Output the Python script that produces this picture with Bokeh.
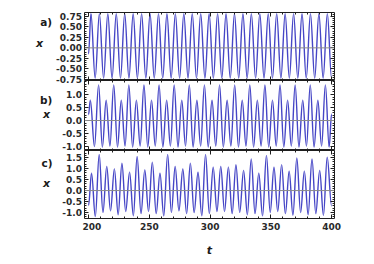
import numpy as np
from bokeh.plotting import figure
from bokeh.layouts import column, row
from bokeh.models import (Range1d, FixedTicker, LinearAxis, ColumnDataSource,
                          Span, SingleIntervalTicker, CustomLabelingPolicy)
from bokeh.core.properties import value
from bokeh.embed import file_html
from bokeh.resources import INLINE

# ---------------- data (extrema) ----------------
panel_letters = ["a)", "b)", "c)"]
y_name = "x"
t_name = "t"

# panel a
a_start = (200.0, -0.15)
a_peak_t = [202.00, 208.95, 215.89, 222.84, 229.79, 236.74, 243.68, 250.63, 257.58, 264.52,
            271.47, 278.42, 285.36, 292.31, 299.26, 306.21, 313.15, 320.10, 327.05, 333.99,
            340.94, 347.89, 354.83, 361.78, 368.73, 375.68, 382.62, 389.57, 396.52]
a_peak_x = [0.81, 0.81, 0.81, 0.81, 0.81, 0.81, 0.81, 0.81, 0.81, 0.81,
            0.81, 0.81, 0.81, 0.81, 0.81, 0.81, 0.81, 0.81, 0.81, 0.81,
            0.81, 0.81, 0.81, 0.81, 0.81, 0.81, 0.81, 0.81, 0.81]
a_trough_t = [205.47, 212.42, 219.37, 226.31, 233.26, 240.21, 247.16, 254.10, 261.05, 268.00,
              274.94, 281.89, 288.84, 295.78, 302.73, 309.68, 316.63, 323.57, 330.52, 337.47,
              344.41, 351.36, 358.31, 365.25, 372.20, 379.15, 386.10, 393.04, 400.00]
a_trough_x = [-0.72, -0.72, -0.72, -0.72, -0.72, -0.72, -0.72, -0.72, -0.72, -0.72,
              -0.72, -0.72, -0.72, -0.72, -0.72, -0.72, -0.72, -0.72, -0.72, -0.72,
              -0.72, -0.72, -0.72, -0.72, -0.72, -0.72, -0.72, -0.72, -0.72]
a_ticks = [-0.75, -0.5, -0.25, 0.0, 0.25, 0.5, 0.75]
a_labels = ["-0.75", "-0.50", "-0.25", "0.00", "0.25", "0.50", "0.75"]

# panel b
b_start = (200.0, 0.22)
b_end = (400.0, 0.25)
b_peak_t = [201.50, 208.30, 214.52, 220.74, 226.96, 233.18, 239.40, 245.62, 251.84, 258.06,
            264.28, 270.50, 276.72, 282.94, 289.16, 295.38, 301.60, 307.82, 314.04, 320.26,
            326.48, 332.70, 338.92, 345.14, 351.36, 357.58, 363.80, 370.02, 376.24, 382.46,
            388.68, 394.90]
b_peak_x = [0.78, 1.37, 0.78, 1.37, 0.78, 1.37, 0.78, 1.37, 0.78, 1.37,
            0.78, 1.37, 0.78, 1.37, 0.78, 1.37, 0.78, 1.37, 0.78, 1.37,
            0.78, 1.37, 0.78, 1.37, 0.78, 1.37, 0.78, 1.37, 0.78, 1.37,
            0.78, 1.37]
b_trough_t = [204.90, 211.41, 217.63, 223.85, 230.07, 236.29, 242.51, 248.73, 254.95, 261.17,
              267.39, 273.61, 279.83, 286.05, 292.27, 298.49, 304.71, 310.93, 317.15, 323.37,
              329.59, 335.81, 342.03, 348.25, 354.47, 360.69, 366.91, 373.13, 379.35, 385.57,
              391.79, 398.01]
b_trough_x = [-1.00, -1.02, -0.98, -1.02, -0.98, -1.02, -0.98, -1.02, -0.98, -1.02,
              -0.98, -1.02, -0.98, -1.02, -0.98, -1.02, -0.98, -1.02, -0.98, -1.02,
              -0.98, -1.02, -0.98, -1.02, -0.98, -1.02, -0.98, -1.02, -0.98, -1.02,
              -0.98, -1.02]
b_ticks = [-1.0, -0.5, 0.0, 0.5, 1.0]
b_labels = ["-1.0", "-0.5", "0.0", "0.5", "1.0"]

# panel c
c_start = (200.0, -0.68)
c_end = (400.0, -0.70)
c_peak_t = [202.5, 208.8, 215.0, 221.3, 227.5, 233.8, 240.0, 246.3, 252.5, 258.8,
            265.1, 271.3, 277.6, 283.8, 290.1, 296.3, 302.6, 308.8, 315.1, 321.3,
            327.6, 333.9, 340.1, 346.4, 352.6, 358.9, 365.1, 371.4, 377.6, 383.9,
            390.2, 396.4]
c_peak_x = [0.79, 1.64, 1.09, 0.98, 1.24, 0.83, 1.55, 0.94, 1.29, 0.79,
            1.64, 1.09, 0.98, 1.24, 0.83, 1.64, 1.06, 1.09, 1.06, 1.18,
            0.91, 1.44, 0.79, 1.59, 1.06, 1.18, 0.88, 1.48, 0.88, 1.44,
            0.91, 1.52]
c_trough_t = [205.6, 211.9, 218.1, 224.4, 230.6, 236.9, 243.2, 249.4, 255.7, 261.9,
              268.2, 274.4, 280.7, 286.9, 293.2, 299.4, 305.7, 311.9, 318.2, 324.4,
              330.7, 337.0, 343.2, 349.5, 355.7, 362.0, 368.2, 374.5, 380.7, 387.0,
              393.3]
c_trough_x = [-1.18, -1.00, -0.92, -1.10, -0.95, -1.15, -1.05, -0.95, -1.05, -1.15,
              -1.00, -0.92, -1.05, -1.00, -1.15, -1.05, -0.95, -0.95, -1.05, -1.00,
              -1.10, -1.05, -1.15, -1.00, -0.95, -1.05, -1.12, -1.00, -1.10, -1.05,
              -1.12]
c_ticks = [-1.0, -0.5, 0.0, 0.5, 1.0, 1.5]
c_labels = ["-1.0", "-0.5", "0.0", "0.5", "1.0", "1.5"]

# ---------------- styling / layout ----------------
LINE = "#4646c6"
FRAME = "#1e1e1e"
FONT = "DejaVu Sans"
K = 0.3642  # bezier handle fraction giving a sine-like half wave
LEFT_W = 82          # side strip: panel letters, "x" and the y tick labels
BORDER_L = 84 - LEFT_W
NO_LABELS = CustomLabelingPolicy(code="""
    for (const i of indices) { indices.unset(i) }
    return indices
""")


def nodes(*parts):
    pts = []
    for p in parts:
        if isinstance(p, tuple):
            pts.append(p)
        else:
            pts.extend(p)
    pts.sort(key=lambda q: q[0])
    t = np.array([q[0] for q in pts])
    x = np.array([q[1] for q in pts])
    return t, x


def bez_source(t, x):
    t0, t1 = t[:-1], t[1:]
    x0, x1 = x[:-1], x[1:]
    dt = t1 - t0
    return ColumnDataSource(dict(x0=t0, y0=x0, x1=t1, y1=x1,
                                 cx0=t0 + K * dt, cy0=x0, cx1=t1 - K * dt, cy1=x1))


xr = Range1d(196.7, 402.4)


def style_axis(ax, show_labels):
    ax.axis_line_color = None
    ax.axis_label = None
    ax.axis_label_standoff = 0
    ax.major_tick_in = 4
    ax.major_tick_out = 0
    ax.minor_tick_in = 2
    ax.minor_tick_out = 0
    ax.major_tick_line_color = FRAME
    ax.minor_tick_line_color = FRAME
    ax.major_label_text_font = FONT
    ax.major_label_text_font_style = "bold"
    ax.major_label_text_color = "#2a2a2a"
    if show_labels:
        ax.major_label_text_font_size = "9px"
    else:
        ax.major_label_text_font_size = "0px"
        ax.major_label_policy = NO_LABELS
        ax.major_label_standoff = 0


def panel(t, x, yr, ticks, minor_step, fh, top, bottom, last):
    p = figure(frame_width=250, frame_height=fh, x_range=xr, y_range=Range1d(*yr),
               output_backend="svg", toolbar_location=None,
               min_border_left=BORDER_L, min_border_right=20,
               min_border_top=top, min_border_bottom=bottom)
    p.grid.visible = False
    p.outline_line_color = FRAME
    p.outline_line_width = 1
    p.add_layout(Span(location=0, dimension="width", line_color="#8a8a8a", line_width=1))
    src = bez_source(t, x)
    p.bezier(x0="x0", y0="y0", x1="x1", y1="y1", cx0="cx0", cy0="cy0", cx1="cx1", cy1="cy1",
             source=src, line_color=LINE, line_width=1.4)

    lo = np.ceil(yr[0] / minor_step) * minor_step
    minors = [float(v) for v in np.round(np.arange(lo, yr[1], minor_step), 4)]
    yt = FixedTicker(ticks=ticks, minor_ticks=minors)
    xt = SingleIntervalTicker(interval=50, num_minor_ticks=5)

    yl = p.yaxis[0]
    yl.ticker = yt
    style_axis(yl, False)

    yrax = LinearAxis(ticker=yt)
    style_axis(yrax, False)
    p.add_layout(yrax, "right")

    xb = p.xaxis[0]
    xb.ticker = xt
    style_axis(xb, last)
    if last:
        xb.major_label_standoff = 4
        xb.axis_label = t_name
        xb.axis_label_text_font = FONT
        xb.axis_label_text_font_style = "bold italic"
        xb.axis_label_text_font_size = "11px"
        xb.axis_label_standoff = 11
        xb.axis_label_text_color = "#1a1a1a"

    xa = LinearAxis(ticker=xt)
    style_axis(xa, False)
    p.add_layout(xa, "above")
    return p


ta, xa_ = nodes([a_start], list(zip(a_peak_t, a_peak_x)), list(zip(a_trough_t, a_trough_x)))
tb, xb_ = nodes([b_start, b_end], list(zip(b_peak_t, b_peak_x)), list(zip(b_trough_t, b_trough_x)))
tc, xc_ = nodes([c_start, c_end], list(zip(c_peak_t, c_peak_x)), list(zip(c_trough_t, c_trough_x)))

YR_A, YR_B, YR_C = (-0.775, 0.84), (-1.154, 1.54), (-1.27, 1.82)
FH_A, FH_B, FH_C = 68, 70, 68
TOP_A = 12
BOTTOM_C = 44
pa = panel(ta, xa_, YR_A, a_ticks, 0.05, FH_A, TOP_A, 0, False)
pb = panel(tb, xb_, YR_B, b_ticks, 0.1, FH_B, 0, 0, False)
pc = panel(tc, xc_, YR_C, c_ticks, 0.1, FH_C, 0, BOTTOM_C, True)

# side strip: its frame spans the whole column; one extra y range per panel,
# aligned with that panel's frame so tick labels go through the same scale.
H = TOP_A + FH_A + FH_B + FH_C + BOTTOM_C
side = figure(width=LEFT_W, height=H, x_range=Range1d(0, LEFT_W), y_range=Range1d(H, 0),
              output_backend="svg", toolbar_location=None, min_border=0,
              x_axis_location=None, y_axis_location=None)
side.grid.visible = False
side.outline_line_color = None

frame_tops = [TOP_A, TOP_A + FH_A, TOP_A + FH_A + FH_B]
for name, yr, ftop, fh, ticks, labels in [("a", YR_A, frame_tops[0], FH_A, a_ticks, a_labels),
                                          ("b", YR_B, frame_tops[1], FH_B, b_ticks, b_labels),
                                          ("c", YR_C, frame_tops[2], FH_C, c_ticks, c_labels)]:
    per_px = (yr[1] - yr[0]) / fh
    side.extra_y_ranges[name] = Range1d(start=yr[0] - (H - ftop - fh) * per_px,
                                        end=yr[1] + ftop * per_px)
    side.text(x=[LEFT_W - 0.5] * len(ticks), y=ticks, text=labels, y_range_name=name,
              text_font=value(FONT), text_font_style="bold", text_font_size="9px",
              text_align="right", text_baseline="middle", text_color="#2a2a2a")

side.text(x=[45.7, 45.7, 46.5], y=[21.5, 99.5, 162.5], text=panel_letters,
          text_font=value(FONT), text_font_style="bold", text_font_size="10.5px",
          text_align="center", text_baseline="middle", text_color="#1a1a1a")
side.text(x=[39.0, 46.0, 46.0], y=[43.0, 114.0, 183.0], text=[y_name] * 3,
          text_font=value(FONT), text_font_style="bold italic", text_font_size="11px",
          text_align="center", text_baseline="middle", text_color="#1a1a1a")

layout = row(side, column(pa, pb, pc, spacing=0), spacing=0)
open("out.html", "w").write(file_html(layout, INLINE))
